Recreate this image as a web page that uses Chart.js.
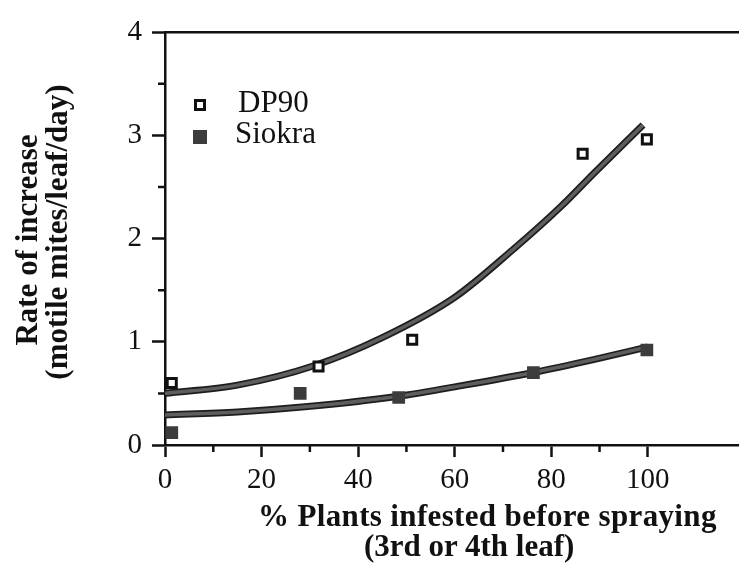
<!DOCTYPE html>
<html>
<head>
<meta charset="utf-8">
<script src="https://cdn.jsdelivr.net/npm/chart.js@4.4.1/dist/chart.umd.min.js"></script>
<style>
  body { margin: 0; background: #fff; }
  #wrap { position: relative; width: 748px; height: 563px; overflow: hidden; }
  .t { position: absolute; font-family: 'Liberation Serif', 'Times New Roman', serif; color: #111; white-space: nowrap; line-height: 30px; }
  .b { font-weight: bold; font-size: 31px; }
  .rot { text-align: center; transform: rotate(-90deg); transform-origin: center; }
  .key { position: absolute; box-sizing: border-box; }
</style>
</head>
<body>
<div id="wrap">
  <canvas id="c" width="748" height="563"></canvas>

  <div class="t b rot" style="left:-123px; top:225px; width:300px">Rate of increase</div>
  <div class="t b rot" style="left:-118px; top:217px; width:350px">(motile mites/leaf/day)</div>

  <div class="t b" style="left:258px; top:501px; letter-spacing:0.35px">% Plants infested before spraying</div>
  <div class="t b" style="left:364px; top:531px">(3rd or 4th leaf)</div>

  <div class="key" style="left:194px; top:99px; width:12px; height:12px; border:3px solid #111"></div>
  <div class="t" style="left:238px; top:87px; font-size:31px">DP90</div>
  <div class="key" style="left:193px; top:130px; width:14px; height:14px; background:#3c3c3c"></div>
  <div class="t" style="left:235px; top:118px; font-size:31px">Siokra</div>
</div>

<script>
// measured points
const dpX = [1.4, 31.8, 51.2, 86.5, 99.8];
const dpY = [0.60, 0.76, 1.02, 2.82, 2.96];
const sioX = [1.4, 28, 48.4, 76.3, 99.8];
const sioY = [0.12, 0.50, 0.46, 0.70, 0.92];

// fitted curves
const dpFitX = [0, 15, 31, 45, 60, 72, 82, 89, 99];
const dpFitY = [0.50, 0.58, 0.77, 1.04, 1.43, 1.89, 2.31, 2.64, 3.10];
const sioFitX = [0, 15, 29, 48, 62, 76, 89, 100];
const sioFitY = [0.29, 0.32, 0.37, 0.47, 0.58, 0.70, 0.83, 0.95];

const xTicks = [0, 20, 40, 60, 80, 100];
const xMinor = [10, 30, 50, 70, 90];
const yMinor = [0.5, 1.5, 2.5, 3.5];

const pts = (xs, ys) => xs.map((x, i) => ({ x, y: ys[i] }));
const serif = "'Liberation Serif', 'Times New Roman', serif";

const minorTicks = {
  id: 'minorTicks',
  afterDraw(chart) {
    const { ctx, chartArea: a, scales } = chart;
    ctx.save();
    ctx.strokeStyle = '#111';
    ctx.lineWidth = 2.5;
    ctx.beginPath();
    yMinor.forEach(v => {
      const y = scales.y.getPixelForValue(v);
      ctx.moveTo(a.left - 7, y); ctx.lineTo(a.left, y);
    });
    xMinor.forEach(v => {
      const x = scales.x.getPixelForValue(v);
      ctx.moveTo(x, a.bottom); ctx.lineTo(x, a.bottom + 7);
    });
    ctx.stroke();
    ctx.restore();
  }
};

const fitStyle = (outer) => ({
  type: 'line',
  showLine: true,
  pointRadius: 0,
  borderColor: outer ? '#1e1e1e' : '#5e5e5e',
  borderWidth: outer ? 7 : 3.5,
  cubicInterpolationMode: 'monotone',
  order: outer ? 3 : 2,
  fill: false
});

new Chart(document.getElementById('c'), {
  type: 'scatter',
  data: {
    datasets: [
      { label: 'DP90', data: pts(dpX, dpY), pointStyle: 'rect', pointRadius: 6.4,
        backgroundColor: '#fff', borderColor: '#111', borderWidth: 3, order: 0 },
      { label: 'Siokra', data: pts(sioX, sioY), pointStyle: 'rect', pointRadius: 9,
        backgroundColor: '#3c3c3c', borderColor: '#3c3c3c', borderWidth: 0, order: 0 },
      { label: 'DP90 fit', data: pts(dpFitX, dpFitY), ...fitStyle(true) },
      { label: 'DP90 fit', data: pts(dpFitX, dpFitY), ...fitStyle(false) },
      { label: 'Siokra fit', data: pts(sioFitX, sioFitY), ...fitStyle(true) },
      { label: 'Siokra fit', data: pts(sioFitX, sioFitY), ...fitStyle(false) }
    ]
  },
  options: {
    responsive: false,
    animation: false,
    layout: { padding: 0 },
    plugins: { legend: { display: false }, tooltip: { enabled: false } },
    scales: {
      x: {
        type: 'linear', min: 0, max: 118.8,
        afterBuildTicks: axis => { axis.ticks = xTicks.map(v => ({ value: v })); },
        afterFit: axis => { axis.height = 118; },
        ticks: { color: '#111', font: { family: serif, size: 29 }, padding: 6, maxRotation: 0 },
        grid: { drawOnChartArea: false, tickLength: 12, tickWidth: 2.5, tickColor: '#111' },
        border: { color: '#111', width: 2.5 }
      },
      xTop: {
        type: 'linear', position: 'top', min: 0, max: 118.8,
        afterFit: axis => { axis.height = 32; },
        ticks: { display: false },
        grid: { display: false },
        border: { color: '#111', width: 2.5 }
      },
      y: {
        min: 0, max: 4,
        ticks: { stepSize: 1, color: '#111', font: { family: serif, size: 29 }, padding: 10 },
        afterFit: axis => { axis.width = 165; },
        grid: { drawOnChartArea: false, tickLength: 13, tickWidth: 2.5, tickColor: '#111' },
        border: { color: '#111', width: 2.5 }
      }
    }
  },
  plugins: [minorTicks]
});
</script>
</body>
</html>
